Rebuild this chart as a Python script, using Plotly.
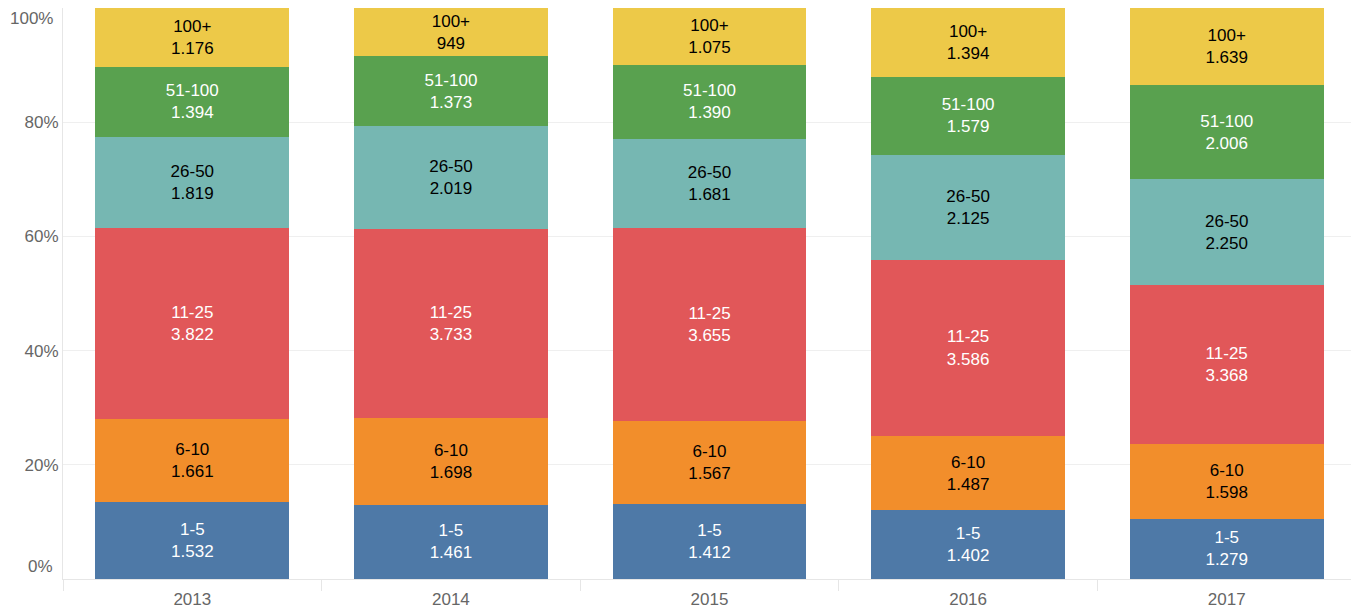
import plotly.graph_objects as go

years = ["2013", "2014", "2015", "2016", "2017"]
categories = ["1-5", "6-10", "11-25", "26-50", "51-100", "100+"]
values = {
    "1-5":    [1532, 1461, 1412, 1402, 1279],
    "6-10":   [1661, 1698, 1567, 1487, 1598],
    "11-25":  [3822, 3733, 3655, 3586, 3368],
    "26-50":  [1819, 2019, 1681, 2125, 2250],
    "51-100": [1394, 1373, 1390, 1579, 2006],
    "100+":   [1176, 949, 1075, 1394, 1639],
}
y_ticks = [0, 20, 40, 60, 80, 100]
y_tick_labels = ["0%", "20%", "40%", "60%", "80%", "100%"]
colors = {
    "1-5": "#4e79a7", "6-10": "#f28e2b", "11-25": "#e15759",
    "26-50": "#76b7b2", "51-100": "#59a14f", "100+": "#edc948",
}
text_colors = {
    "1-5": "white", "6-10": "black", "11-25": "white",
    "26-50": "black", "51-100": "white", "100+": "black",
}

def fmt(v):
    return f"{v:,}".replace(",", ".")

fig = go.Figure()
for cat in categories:
    vals = values[cat]
    fig.add_trace(go.Bar(
        x=years, y=vals, name=cat,
        marker=dict(color=colors[cat], line=dict(width=0)),
        text=[f"{cat}<br>{fmt(v)}" for v in vals],
        textposition="inside", insidetextanchor="middle", textangle=0,
        textfont=dict(color=text_colors[cat], size=17, family="Liberation Sans, Arial"),
        hoverinfo="skip",
    ))

inner_text = y_tick_labels[1:-1]

# the page body adds an 8px offset, so the figure is sized to fit inside it
fig.update_layout(
    barmode="stack", barnorm="percent", bargap=0.25,
    width=1351, height=602,
    margin=dict(l=55, r=3, t=0, b=31, autoexpand=False),
    plot_bgcolor="white", paper_bgcolor="white",
    showlegend=False,
    font=dict(family="Liberation Sans, Arial", size=17, color="#666666"),
    uniformtext=dict(minsize=17, mode="show"),
)
fig.update_yaxes(
    range=[0, 100], tickmode="array", tickvals=y_ticks,
    ticktext=["", *inner_text, ""],
    showgrid=True, gridcolor="#efefef", gridwidth=1,
    showline=True, linecolor="#e6e6e6", linewidth=1,
    zeroline=False, ticks="", automargin=False,
    tickfont=dict(size=17, color="#666666"),
)
fig.update_xaxes(
    type="category", tickson="boundaries", ticks="outside", ticklen=11,
    tickcolor="#e6e6e6", showgrid=False, automargin=False,
    showline=True, linecolor="#e6e6e6", linewidth=1,
    ticklabelstandoff=5,
    tickfont=dict(size=17, color="#666666"),
)
fig.add_annotation(x=0, xref="paper", xanchor="right", xshift=-8,
                   y=y_ticks[-1], yref="y", yanchor="top", yshift=1,
                   text=y_tick_labels[-1], showarrow=False,
                   font=dict(size=17, color="#666666"))
fig.add_annotation(x=0, xref="paper", xanchor="right", xshift=-8,
                   y=y_ticks[0], yref="y", yanchor="bottom", yshift=1,
                   text=y_tick_labels[0], showarrow=False,
                   font=dict(size=17, color="#666666"))

fig.write_html("out.html")
